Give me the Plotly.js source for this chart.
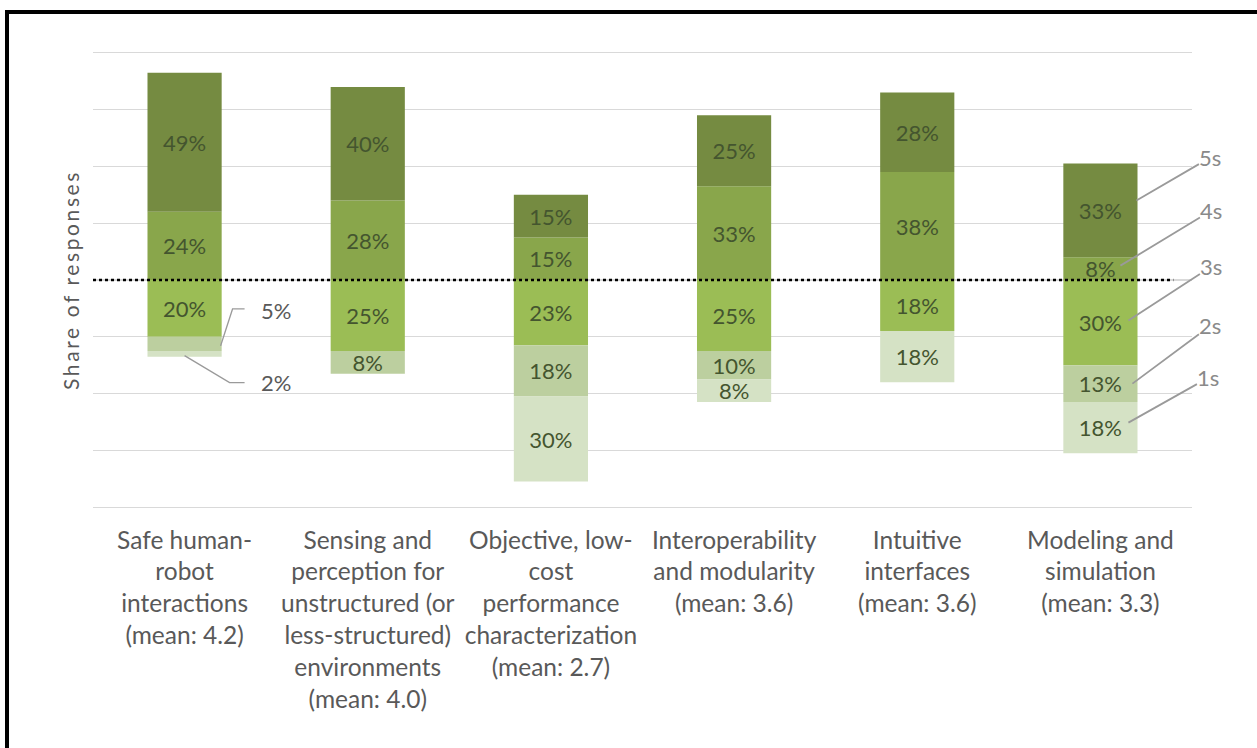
<!DOCTYPE html>
<html>
<head>
<meta charset="utf-8">
<script src="https://cdn.plot.ly/plotly-3.0.1.min.js"></script>
<style>
  html, body { margin: 0; padding: 0; background: #ffffff; }
  #wrap { position: relative; width: 1257px; height: 748px; overflow: hidden; }
  #chart { position: absolute; left: 0; top: 0; width: 1257px; height: 748px; }
  #frame { position: absolute; left: 5px; top: 10px; width: 1260px; height: 760px;
           border-top: 4px solid #000; border-left: 4px solid #000; pointer-events: none; }
  .ytitle { letter-spacing: 2.6px; }
</style>
</head>
<body>
<div id="wrap">
  <div id="chart"></div>
  <div id="frame"></div>
</div>
<script>
// ---- data (share of responses, %) ----
const categories = [
  "Safe human-<br>robot<br>interactions<br>(mean: 4.2)",
  "Sensing and<br>perception for<br>unstructured (or<br>less-structured)<br>environments<br>(mean: 4.0)",
  "Objective, low-<br>cost<br>performance<br>characterization<br>(mean: 2.7)",
  "Interoperability<br>and modularity<br>(mean: 3.6)",
  "Intuitive<br>interfaces<br>(mean: 3.6)",
  "Modeling and<br>simulation<br>(mean: 3.3)"
];
const seriesNames = ["1s", "2s", "3s", "4s", "5s"];
const fives  = [49, 40, 15, 25, 28, 33];
const fours  = [24, 28, 15, 33, 38, 8];
const threes = [20, 25, 23, 25, 18, 30];
const twos   = [5, 8, 18, 10, 0, 13];
const ones   = [2, 0, 30, 8, 18, 18];

// ---- style ----
const FONT = "Lato, 'Open Sans', sans-serif";
const colors = { "5s": "#758b41", "4s": "#89a64b", "3s": "#9bbd55", "2s": "#bccf9f", "1s": "#d5e2c5" };
const barTextColor = "#44552f";

function labels(vals) { return vals.map(v => (v >= 8 ? v + "%" : "")); }

function barTrace(name, vals, sign) {
  return {
    type: "bar",
    name: name,
    x: categories,
    y: vals.map(v => sign * v),
    marker: { color: colors[name], line: { width: 0 } },
    text: labels(vals),
    textposition: "inside",
    insidetextanchor: "middle",
    textangle: 0,
    textfont: { family: FONT, size: 22, color: barTextColor },
    hoverinfo: "skip",
    showlegend: false
  };
}

// positives stack upward from 0 (4s then 5s); negatives stack downward (3s, 2s, 1s)
const traces = [
  barTrace("3s", threes, -1),
  barTrace("4s", fours, 1),
  barTrace("2s", twos, -1),
  barTrace("5s", fives, 1),
  barTrace("1s", ones, -1)
];

// ---- leader-line labels ----
const last = categories.length - 1;
const mids = {
  "5s": fours[last] + fives[last] / 2,
  "4s": fours[last] / 2,
  "3s": -threes[last] / 2,
  "2s": -(threes[last] + twos[last] / 2),
  "1s": -(threes[last] + twos[last] + ones[last] / 2)
};
// pixel offsets (style only)
const seriesLabelStyle = {
  "5s": { xs: 36, ys: 10, ax: 74, ay: -43 },
  "4s": { xs: 20, ys: 3,  ax: 91, ay: -55 },
  "3s": { xs: 28, ys: 2,  ax: 83, ay: -54 },
  "2s": { xs: 32, ys: 0,  ax: 78, ay: -58 },
  "1s": { xs: 28, ys: 5,  ax: 80, ay: -45 }
};
const lineColor = "#9a9a9a";
const annotations = seriesNames.map(n => ({
  xref: "x", yref: "y", x: categories[last], y: mids[n],
  xshift: seriesLabelStyle[n].xs, yshift: seriesLabelStyle[n].ys,
  text: n, showarrow: true, arrowhead: 0, arrowwidth: 1.8, arrowcolor: lineColor,
  axref: "pixel", ayref: "pixel",
  ax: seriesLabelStyle[n].ax, ay: seriesLabelStyle[n].ay,
  font: { family: FONT, size: 22, color: "#8a8a8a" }, borderpad: 0
}));

// small outside labels on the first bar
const y2s = -(threes[0] + twos[0] / 2);
const yBottom = -(threes[0] + twos[0] + ones[0]);
annotations.push({
  xref: "x", yref: "y", x: categories[0], y: y2s, xanchor: "left", yanchor: "middle",
  xshift: 74, yshift: 33, text: twos[0] + "%", showarrow: false,
  font: { family: FONT, size: 22, color: "#595959" }
});
annotations.push({
  xref: "x", yref: "y", x: categories[0], y: yBottom, xanchor: "left", yanchor: "middle",
  xshift: 74, yshift: -26, text: ones[0] + "%", showarrow: false,
  font: { family: FONT, size: 22, color: "#595959" }
});

const shapes = [
  { type: "line", xref: "paper", yref: "y", x0: 0, x1: 0.983, y0: 0, y1: 0,
    line: { color: "#000000", width: 2.6, dash: "dot" }, layer: "above" },
  { type: "path", xref: "x", yref: "y", xsizemode: "pixel", ysizemode: "pixel",
    xanchor: categories[0], yanchor: y2s,
    path: "M36,-2 L48,35 L60,35", line: { color: lineColor, width: 1.4 }, layer: "above" },
  { type: "path", xref: "x", yref: "y", xsizemode: "pixel", ysizemode: "pixel",
    xanchor: categories[0], yanchor: yBottom,
    path: "M0,1 L45,-26 L60,-26", line: { color: lineColor, width: 1.4 }, layer: "above" }
];

const layout = {
  width: 1257, height: 748,
  margin: { l: 93, r: 65, t: 50, b: 238, pad: 0 },
  paper_bgcolor: "#ffffff", plot_bgcolor: "#ffffff",
  barmode: "relative", bargap: 0.595,
  font: { family: FONT, color: "#595959" },
  xaxis: {
    type: "category", range: [-0.5, 5.5], autorange: false,
    showgrid: false, showline: false, zeroline: false, ticks: "",
    tickfont: { family: FONT, size: 24.5, color: "#595959" }, fixedrange: true,
    ticklabelstandoff: 13, automargin: false
  },
  yaxis: {
    range: [-81, 81], autorange: false, dtick: 20, tick0: 0, showticklabels: false, ticks: "",
    showgrid: true, gridcolor: "#d9d9d9", gridwidth: 1.2, zeroline: false, showline: false,
    fixedrange: true, automargin: false,
    title: { text: "Share of responses", standoff: 6, font: { family: FONT, size: 21, color: "#595959" } }
  },
  uniformtext: { mode: "show", minsize: 22 },
  shapes: shapes,
  annotations: annotations,
  showlegend: false
};

Plotly.newPlot("chart", traces, layout, { displayModeBar: false, staticPlot: true });
</script>
</body>
</html>
